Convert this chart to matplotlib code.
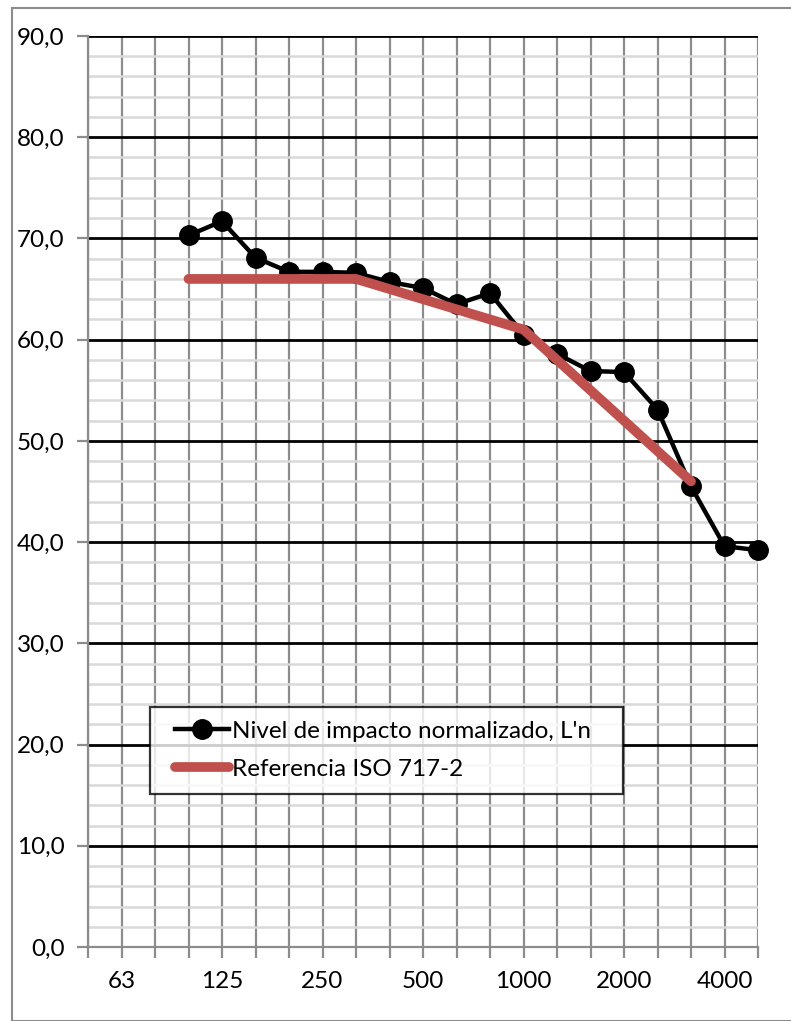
import matplotlib
matplotlib.use("Agg")
import matplotlib.pyplot as plt
from matplotlib.patches import Rectangle
from matplotlib.ticker import MultipleLocator, FixedLocator
from matplotlib.legend_handler import HandlerLine2D

plt.rcParams['font.family'] = ['Lato', 'DejaVu Sans']

freqs = ["50", "63", "80", "100", "125", "160", "200", "250", "315", "400", "500",
         "630", "800", "1000", "1250", "1600", "2000", "2500", "3150", "4000", "5000"]
shown_labels = ["63", "125", "250", "500", "1000", "2000", "4000"]

ln_freqs = ["100", "125", "160", "200", "250", "315", "400", "500", "630", "800",
            "1000", "1250", "1600", "2000", "2500", "3150", "4000", "5000"]
ln_values = [70.3, 71.7, 68.1, 66.7, 66.7, 66.6, 65.7, 65.1, 63.5, 64.6,
             60.5, 58.6, 56.9, 56.8, 53.1, 45.5, 39.6, 39.2]

ref_freqs = ["100", "125", "160", "200", "250", "315", "400", "500", "630", "800",
             "1000", "1250", "1600", "2000", "2500", "3150"]
ref_values = [66, 66, 66, 66, 66, 66, 65, 64, 63, 62, 61, 58, 55, 52, 49, 46]

FS = 17.5


class PadHandler(HandlerLine2D):
    def __init__(self, pad, **kw):
        super().__init__(**kw)
        self.pad = pad

    def create_artists(self, legend, orig_handle, xdescent, ydescent, width,
                       height, fontsize, trans):
        return super().create_artists(legend, orig_handle, xdescent - self.pad,
                                      ydescent, width - self.pad, height,
                                      fontsize, trans)


W, H = 791, 1021
fig = plt.figure(figsize=(W / 100, H / 100), dpi=100)
fig.patches.append(Rectangle((12 / W, 0), 1.0, 1 - 8 / H, transform=fig.transFigure,
                             fill=False, edgecolor='#8c8c8c', linewidth=1.5, zorder=0))

ax = fig.add_axes([88 / W, (H - 947) / H, (758 - 88) / W, (947 - 36) / H])

idx = {f: i for i, f in enumerate(freqs)}
x_ln = [idx[f] for f in ln_freqs]
x_ref = [idx[f] for f in ref_freqs]

ax.set_xlim(0, len(freqs) - 1)
ax.set_ylim(0, 90)

ax.yaxis.set_major_locator(MultipleLocator(10))
ax.yaxis.set_minor_locator(MultipleLocator(2))
ax.xaxis.set_major_locator(FixedLocator(list(range(len(freqs)))))
ax.set_xticklabels([f if f in shown_labels else "" for f in freqs])
ax.set_yticks(range(0, 91, 10))
ax.set_yticklabels([f"{v},0" for v in range(0, 91, 10)])

ax.grid(which='minor', axis='y', color='#d9d9d9', linewidth=1.8, zorder=0)
ax.grid(which='major', axis='x', color='#8c8c8c', linewidth=1.6, zorder=0.5)
ax.grid(which='major', axis='y', color='black', linewidth=2.0, zorder=1)
ax.set_axisbelow(True)

for s in ['top', 'right']:
    ax.spines[s].set_visible(False)
for s in ['left', 'bottom']:
    ax.spines[s].set_color('#8c8c8c')
    ax.spines[s].set_linewidth(1.6)

ax.tick_params(axis='both', which='major', colors='#8c8c8c', width=1.6, length=8,
               labelcolor='black', labelsize=FS)
ax.tick_params(axis='y', which='minor', length=0)
ax.tick_params(axis='y', pad=9)
ax.tick_params(axis='x', pad=9)

l1, = ax.plot(x_ln, ln_values, color='black', linewidth=3.2, marker='o', markersize=14,
              label="Nivel de impacto normalizado, L'n", zorder=3, clip_on=False)
l2, = ax.plot(x_ref, ref_values, color='#c0504d', linewidth=7, solid_capstyle='round',
              label="Referencia ISO 717-2", zorder=4, clip_on=False)

ax_w = 758 - 88
ax_h = 947 - 36
top = (947 - 707) / ax_h
leg = ax.legend(loc='upper left',
                bbox_to_anchor=((150 - 88) / ax_w, top - 0.01,
                                (623 - 150) / ax_w, 0.01),
                mode='expand',
                frameon=True, fancybox=False, fontsize=FS, handlelength=2.7,
                handletextpad=0.1, borderpad=0.57, labelspacing=0.7,
                borderaxespad=0,
                handler_map={l1: PadHandler(8), l2: PadHandler(8)})
leg.get_frame().set_edgecolor('black')
leg.get_frame().set_linewidth(1.6)
leg.set_zorder(10)

fig.savefig("out.png", dpi=100)
